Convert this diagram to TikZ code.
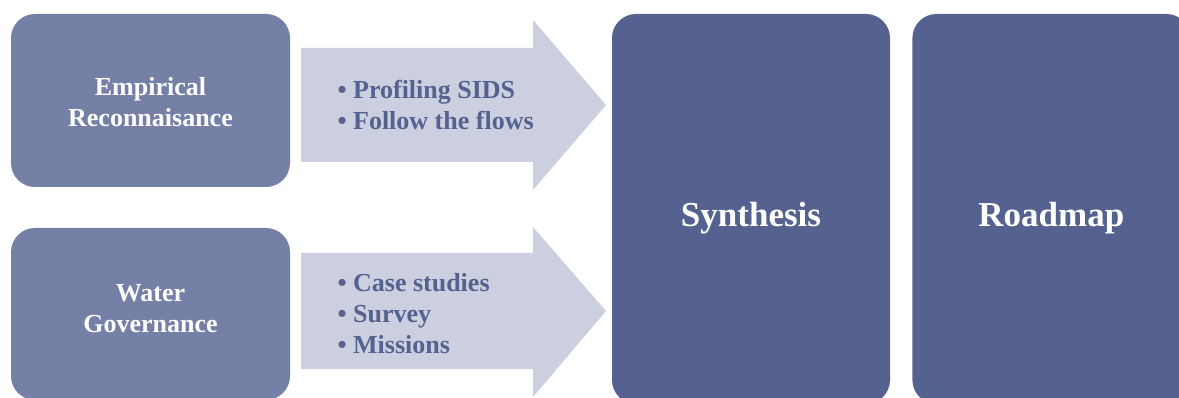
\documentclass[tikz,border=0pt]{standalone}
\usepackage{fontspec}
\setmainfont{Liberation Serif}
\usetikzlibrary{calc,positioning}
\definecolor{inputgrey}{HTML}{7480A6}
\definecolor{stageblue}{HTML}{55628F}
\definecolor{flowpale}{HTML}{CBCFDF}

\begin{document}
\begin{tikzpicture}[x=1pt,y=-1pt]
    \tikzset{inputbox/.style = {rectangle, rounded corners=24pt,
        fill = inputgrey,
        minimum width = 279pt},
      stagebox/.style = {rectangle, rounded corners=24pt,
        fill = stageblue,
        minimum width = 278pt,
        minimum height = 390pt},
      boxtext/.style = {text=white, align=center,
        font=\fontsize{26}{31}\selectfont\bfseries},
      stagetext/.style = {text=white,
        font=\fontsize{35}{40}\selectfont\bfseries},
      flowshape/.style = {fill=flowpale},
      flowtext/.style = {text=stageblue, align=left, anchor=west,
        font=\fontsize{26}{31}\selectfont\bfseries}}
    \useasboundingbox (0,0) rectangle (1179,398);
    \clip (0,0) rectangle (1179,398);
    % left column
    \node[inputbox, minimum height=173pt] (empirical) at (150.5,100.5) {};
    \node[inputbox, minimum height=172pt] (water) at (150.5,314) {};
    \node[boxtext] (empiricaltext) at ($(empirical.center) + (0,2)$) {Empirical\\Reconnaisance};
    \node[boxtext] (watertext) at ($(water.center) - (0,5)$) {Water\\Governance};
    % block arrows
    \fill[flowshape] (301,48) -- (533,48) -- (533,20) -- (606,105)
      -- (533,190) -- (533,162) -- (301,162) -- cycle;
    \fill[flowshape] (301,253) -- (533,253) -- (533,227) -- (606,311)
      -- (533,397) -- (533,369) -- (301,369) -- cycle;
    \node[flowtext] (profiling) at (334,104.5) {\textbullet\ Profiling SIDS\\\textbullet\ Follow the flows};
    \node[flowtext] (cases) at (334,314) {\textbullet\ Case studies\\\textbullet\ Survey\\\textbullet\ Missions};
    % right column
    \node[stagebox] (synthesis) at (751,209) {};
    \node[stagebox, right=22pt of synthesis] (roadmap) {};
    \node[stagetext] (synthesistext) at ($(synthesis.center) + (0,9)$) {Synthesis};
    \node[stagetext] (roadmaptext) at ($(roadmap.center) + (0,9)$) {Roadmap};
\end{tikzpicture}
\end{document}
